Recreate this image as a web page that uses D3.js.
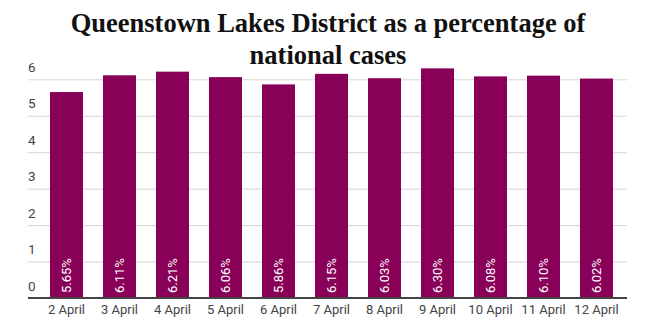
<!DOCTYPE html>
<html><head><meta charset="utf-8">
<script src="https://cdn.jsdelivr.net/npm/d3@7"></script>
<style>body{margin:0;background:#fff}</style>
</head><body>
<svg id="c" width="649" height="323"></svg>
<script>
const categories = ["2 April","3 April","4 April","5 April","6 April","7 April","8 April","9 April","10 April","11 April","12 April"];
const values = [5.65,6.11,6.21,6.06,5.86,6.15,6.03,6.30,6.08,6.10,6.02];
const yTicks = [0,1,2,3,4,5,6];
const titleLines = ["Queenstown Lakes District as a percentage of","national cases"];

const svg = d3.select("#c");
const plotL = 28, plotR = 627;
const x = d3.scaleBand().domain(categories).range([40,623]).paddingInner(20/53).paddingOuter(10/53);
const y = d3.scaleLinear().domain([0,6]).range([298,79.3]);

// gridlines
const yAxis = d3.axisLeft(y).tickValues(yTicks).tickSize(-(plotR-plotL)).tickFormat(d=>d);
const gy = svg.append("g").attr("transform",`translate(${plotL},0)`).call(yAxis);
gy.select(".domain").remove();
gy.selectAll(".tick line").attr("stroke","#d6d6d6").attr("stroke-width",1);
gy.selectAll(".tick text").attr("x",0).attr("dy",-8).attr("text-anchor","start")
  .attr("fill","#444").style("font-family","Roboto").style("font-size","13.5px");

// bars
svg.append("g").selectAll("rect").data(values).join("rect")
  .attr("x",(d,i)=>x(categories[i])).attr("width",x.bandwidth())
  .attr("y",d=>y(d)).attr("height",d=>y(0)-y(d)).attr("fill","#890059");

// value labels
svg.append("g").selectAll("text").data(values).join("text")
  .attr("transform",(d,i)=>`translate(${x(categories[i])+x.bandwidth()/2+4.5},${y(0)-5}) rotate(-90)`)
  .attr("text-anchor","start").attr("fill","#fff")
  .style("font-family","Roboto").style("font-size","13px")
  .text(d=>d.toFixed(2)+"%");

// x axis
const xAxis = d3.axisBottom(x).tickSize(0).tickPadding(7);
const gx = svg.append("g").attr("transform",`translate(0,${y(0)})`).call(xAxis);
gx.select(".domain").remove();
gx.selectAll(".tick text").attr("fill","#444").style("font-family","Roboto").style("font-size","13px");
svg.append("line").attr("x1",plotL).attr("x2",plotR).attr("y1",y(0)).attr("y2",y(0))
  .attr("stroke","#444").attr("stroke-width",2);

// title
svg.append("g").selectAll("text").data(titleLines).join("text")
  .attr("x",328).attr("y",(d,i)=>32+i*32).attr("text-anchor","middle")
  .style("font-family","'Liberation Serif'").style("font-weight","bold").style("font-size","26.5px")
  .attr("fill","#111").text(d=>d);
</script>
</body></html>
